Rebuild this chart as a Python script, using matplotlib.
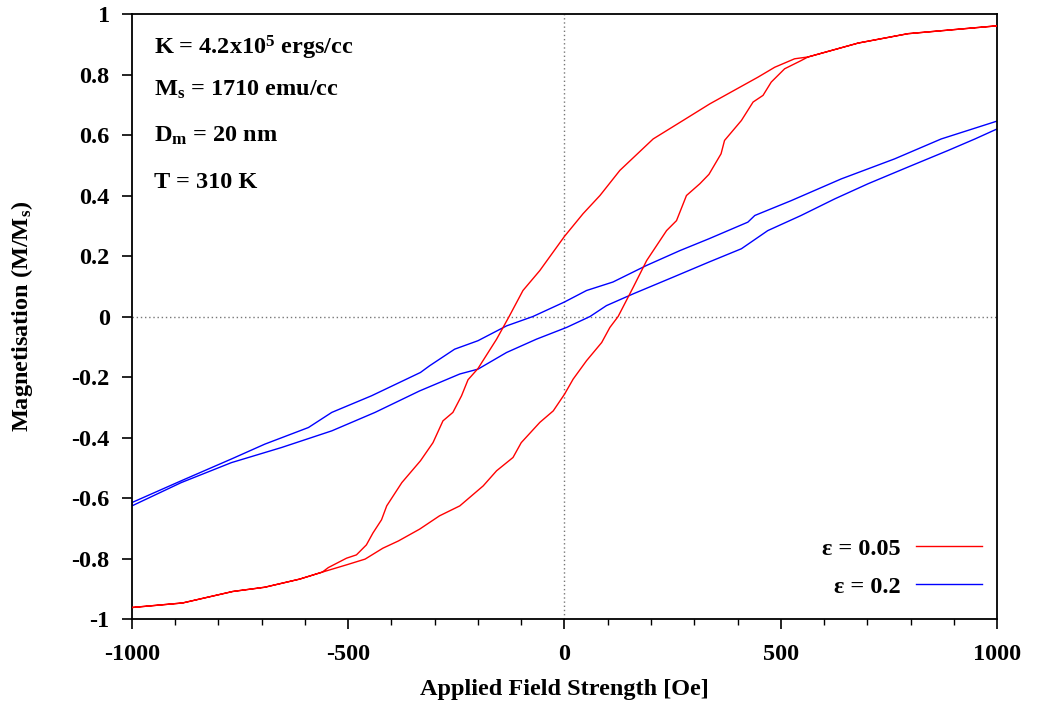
import matplotlib
matplotlib.use("Agg")
import matplotlib.pyplot as plt
import numpy as np

# ---------------- data ----------------
# epsilon = 0.05, descending-field branch (from +1000 to -1000)
red_down_x = [1000, 794, 679, 563, 532, 486, 447, 336, 274, 205, 128, 82, 43, 0,
              -57, -96, -128, -157, -200, -223, -238, -258, -281, -304, -333,
              -376, -411, -423, -443, -458, -481, -504, -546, -560, -612, -693,
              -767, -883, -1000]
red_down_y = [0.961, 0.935, 0.904, 0.858, 0.852, 0.824, 0.791, 0.703, 0.648,
              0.587, 0.483, 0.400, 0.340, 0.265, 0.152, 0.086, 0.0, -0.075,
              -0.172, -0.209, -0.262, -0.317, -0.345, -0.417, -0.477, -0.549,
              -0.626, -0.672, -0.716, -0.755, -0.788, -0.799, -0.830, -0.845,
              -0.868, -0.895, -0.909, -0.947, -0.962]
# epsilon = 0.05, ascending-field branch (from -1000 to +1000)
red_up_x = [-1000, -883, -767, -693, -612, -560, -504, -461, -420, -384, -335,
            -289, -242, -188, -157, -119, -100, -57, -26, 0, 20, 51, 86, 105,
            124, 159, 190, 236, 259, 282, 313, 334, 362, 370, 409, 436, 459,
            478, 509, 547, 563, 679, 794, 1000]
red_up_y = [-0.962, -0.947, -0.909, -0.895, -0.868, -0.845, -0.821, -0.802,
            -0.766, -0.742, -0.703, -0.659, -0.626, -0.560, -0.510, -0.466,
            -0.417, -0.350, -0.312, -0.257, -0.207, -0.146, -0.086, -0.036,
            0.0, 0.097, 0.185, 0.284, 0.317, 0.400, 0.439, 0.470, 0.538,
            0.582, 0.648, 0.709, 0.731, 0.775, 0.819, 0.846, 0.858, 0.904,
            0.935, 0.961]

# epsilon = 0.2, descending-field branch
blue_down_x = [1000, 871, 763, 640, 524, 440, 424, 334, 267, 190, 112, 51, 0,
               -73, -134, -200, -254, -312, -333, -446, -538, -592, -693,
               -770, -886, -1000]
blue_down_y = [0.646, 0.587, 0.521, 0.455, 0.383, 0.334, 0.312, 0.257, 0.218,
               0.169, 0.114, 0.086, 0.048, 0.0, -0.031, -0.080, -0.108,
               -0.163, -0.185, -0.262, -0.317, -0.367, -0.422, -0.471,
               -0.543, -0.615]
# epsilon = 0.2, ascending-field branch
blue_up_x = [-1000, -886, -770, -654, -538, -438, -335, -242, -200, -134, -65,
             5, 59, 97, 159, 251, 334, 409, 470, 547, 625, 702, 794, 887, 949,
             1000]
blue_up_y = [-0.626, -0.549, -0.483, -0.433, -0.378, -0.317, -0.246, -0.190,
             -0.174, -0.119, -0.075, -0.036, 0.0, 0.036, 0.075, 0.130, 0.180,
             0.224, 0.284, 0.334, 0.389, 0.439, 0.494, 0.549, 0.587, 0.620]

series_labels = ["ε = 0.05", "ε = 0.2"]
x_ticks = [-1000, -500, 0, 500, 1000]
y_ticks = [-1, -0.8, -0.6, -0.4, -0.2, 0, 0.2, 0.4, 0.6, 0.8, 1]
y_tick_labels = ["-1", "-0.8", "-0.6", "-0.4", "-0.2", "0", "0.2", "0.4",
                 "0.6", "0.8", "1"]
info_lines = ["K = 4.2x10$^5$ ergs/cc", "M$_s$ = 1710 emu/cc",
              "D$_m$ = 20 nm", "T = 310 K"]
info_y = [0.866, 0.731, 0.579, 0.425]

# ---------------- styling ----------------
FS = 17.5
plt.rcParams["font.family"] = ["Liberation Serif", "DejaVu Serif"]
plt.rcParams["font.weight"] = "bold"
plt.rcParams["mathtext.fontset"] = "custom"
plt.rcParams["mathtext.rm"] = "Liberation Serif:bold"
plt.rcParams["mathtext.it"] = "Liberation Serif:bold"
plt.rcParams["mathtext.bf"] = "Liberation Serif:bold"

fig = plt.figure(figsize=(10.39, 7.08), dpi=100)
ax = fig.add_axes([0.127, 0.1257, 0.8326, 0.8545])

ax.axhline(0, color="#777777", lw=1.0, ls=(0, (1, 2)), zorder=1)
ax.axvline(0, color="#777777", lw=1.0, ls=(0, (1, 2)), zorder=1)

ax.plot(red_down_x + red_up_x, red_down_y + red_up_y, color="#ff0000",
        lw=1.0, label=series_labels[0], zorder=3)
ax.plot(blue_down_x + blue_up_x, blue_down_y + blue_up_y, color="#0000ff",
        lw=1.0, label=series_labels[1], zorder=2)

ax.set_xlim(-1000, 1000)
ax.set_ylim(-1, 1)
ax.set_xticks(x_ticks)
ax.set_xticklabels([str(v) for v in x_ticks])
ax.set_xticks(np.arange(-1000, 1001, 100), minor=True)
ax.set_yticks(y_ticks)
ax.set_yticklabels(y_tick_labels)

ax.tick_params(axis="both", which="major", direction="out", length=7,
               width=1.2, labelsize=FS)
ax.tick_params(axis="x", which="major", pad=11)
ax.tick_params(axis="y", which="major", pad=9)
ax.tick_params(axis="x", which="minor", direction="out", length=4, width=1.0)
for s in ax.spines.values():
    s.set_linewidth(1.3)

ax.set_xlabel("Applied Field Strength [Oe]", fontsize=FS, fontweight="bold",
              labelpad=10)
ax.set_ylabel("Magnetisation (M/M$_s$)", fontsize=FS, fontweight="bold",
              labelpad=26)

for txt, yy in zip(info_lines, info_y):
    ax.text(-949, yy, txt, fontsize=FS, fontweight="bold", va="baseline",
            ha="left")

leg = ax.legend(loc="lower right", bbox_to_anchor=(1.002, 0.007),
                frameon=False, markerfirst=False,
                fontsize=FS, handlelength=2.7, handletextpad=0.65,
                labelspacing=0.65, borderaxespad=0.3)

fig.savefig("out.png", dpi=100)
